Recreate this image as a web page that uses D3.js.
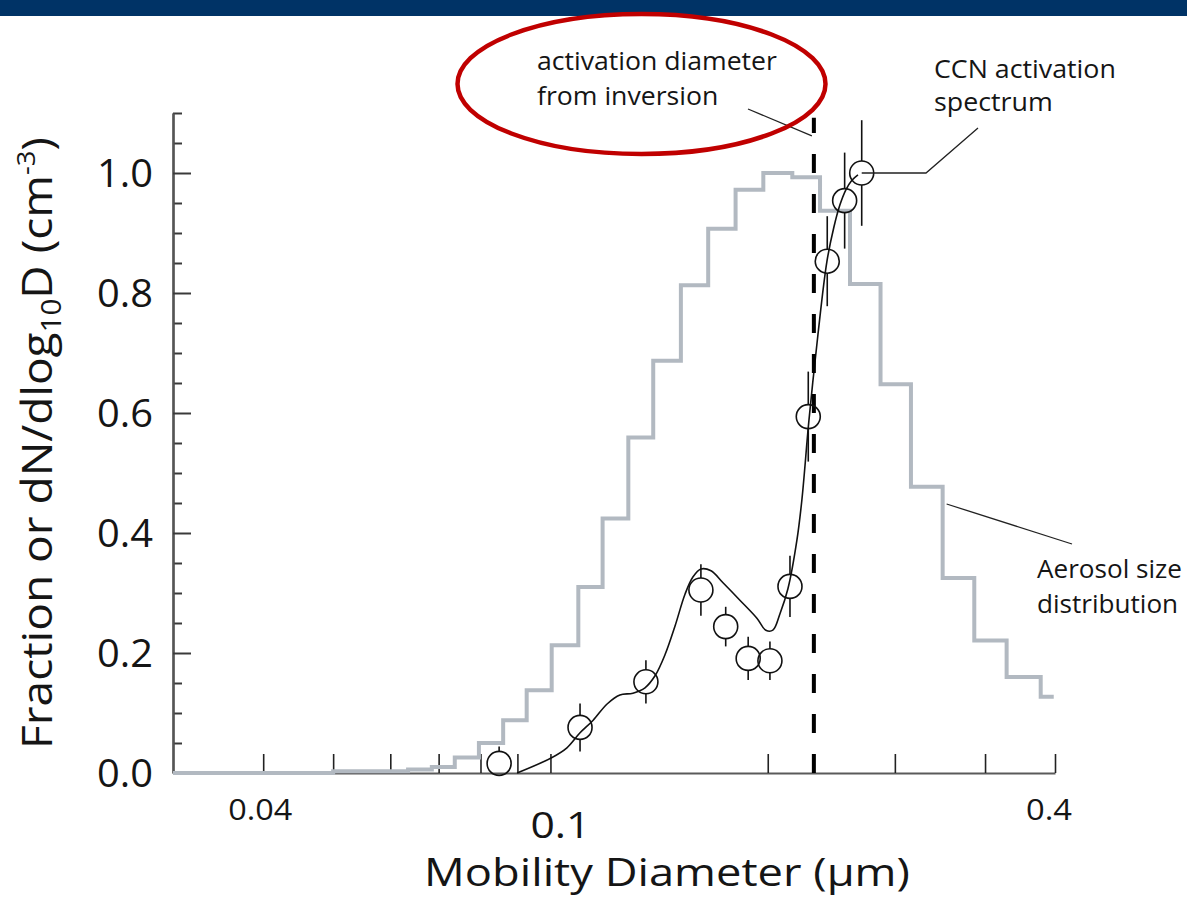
<!DOCTYPE html>
<html>
<head>
<meta charset="utf-8">
<script src="https://cdn.jsdelivr.net/npm/d3@7"></script>
<style>
  html, body { margin: 0; padding: 0; background: #ffffff; }
  svg { display: block; }
  text { font-family: "Open Sans", "Noto Sans", sans-serif; fill: #151515; }
</style>
</head>
<body>
<svg id="chart" width="1187" height="908"></svg>
<script>
// ---- Aerosol size distribution (normalised dN/dlog10D); each bin starts at the listed diameter (µm)
const sizeBinEdges = [0.03, 0.050, 0.0635, 0.0685, 0.0737, 0.0796, 0.0860, 0.0927, 0.1004, 0.1093,
  0.1181, 0.1282, 0.1388, 0.1516, 0.1654, 0.1805, 0.1972, 0.2163, 0.2363, 0.2600,
  0.2866, 0.3158, 0.3494, 0.3865, 0.4285, 0.4777];
const sizeBinValues = [0, 0.003, 0.006, 0.010, 0.026, 0.050, 0.088, 0.138, 0.213, 0.310,
  0.424, 0.559, 0.687, 0.813, 0.907, 0.972, 1.000, 0.993, 0.937, 0.815,
  0.648, 0.477, 0.325, 0.221, 0.160, 0.127];
const sizeBinEnd = 0.498;

// ---- CCN activation spectrum: measured activated fraction with uncertainty
const ccnDiameter = [0.0849, 0.1099, 0.1356, 0.1616, 0.1749, 0.1879, 0.2014, 0.2147, 0.2276, 0.2418, 0.2556, 0.2699];
const ccnFraction = [0.016, 0.076, 0.152, 0.305, 0.244, 0.191, 0.187, 0.311, 0.594, 0.853, 0.954, 1.000];
const ccnError    = [0.028, 0.040, 0.036, 0.043, 0.033, 0.036, 0.032, 0.051, 0.075, 0.075, 0.080, 0.088];

// ---- Smooth fit through the activation spectrum
const fitDiameter = [0.0899, 0.1002, 0.1054, 0.1099, 0.1146, 0.1198, 0.1248, 0.1301, 0.1352, 0.1396,
  0.1441, 0.1488, 0.1536, 0.1576, 0.1616, 0.1669, 0.1734, 0.1830, 0.1932, 0.1988,
  0.2033, 0.2079, 0.2133, 0.2195, 0.2230, 0.2281, 0.2347, 0.2415, 0.2470, 0.2518,
  0.2566, 0.2616, 0.2667];
const fitFraction = [0, 0.025, 0.042, 0.067, 0.088, 0.115, 0.130, 0.133, 0.142, 0.162,
  0.197, 0.245, 0.298, 0.327, 0.340, 0.337, 0.317, 0.288, 0.258, 0.238,
  0.238, 0.265, 0.307, 0.388, 0.455, 0.588, 0.730, 0.852, 0.910, 0.947,
  0.972, 0.988, 0.997];

// ---- Activation diameter obtained from the inversion
const activationDiameter = 0.2317;
const activationLineTop = 1.092;

// ---- Axes
const xDomain = [0.03, 0.5];
const yDomain = [0, 1.1];
const xTickValues = [0.04, 0.05, 0.06, 0.07, 0.08, 0.09, 0.1, 0.2, 0.3, 0.4, 0.5];
const xTickLabelValues = [0.04, 0.1, 0.4];
const xTickLabels = ["0.04", "0.1", "0.4"];
const yMajorTicks = [0, 0.2, 0.4, 0.6, 0.8, 1.0];
const yMinorTicks = [0.05, 0.1, 0.15, 0.25, 0.3, 0.35, 0.45, 0.5, 0.55, 0.65, 0.7, 0.75, 0.85, 0.9, 0.95, 1.05, 1.1];
const yTickLabels = ["0.0", "0.2", "0.4", "0.6", "0.8", "1.0"];

const W = 1187, H = 908;
const svg = d3.select("#chart");

const x = d3.scaleLog().domain(xDomain).range([173, 1055]);
const y = d3.scaleLinear().domain(yDomain).range([773, 113]);

// header band
svg.append("rect").attr("x", 0).attr("y", 0).attr("width", W).attr("height", 16).attr("fill", "#003366");

// text helper: draws lines of text and stretches them horizontally to a given width
function stretchedText(parent, x0, y0, size, anchor, lines, gap, targetWidth, rotate) {
  const g = parent.append("g");
  const t = g.append("text").attr("font-size", size).attr("text-anchor", anchor);
  lines.forEach((ln, i) => t.append("tspan").attr("x", 0).attr("y", i * gap).text(ln));
  const len = t.select("tspan").node().getComputedTextLength();
  const s = targetWidth ? targetWidth / len : 1;
  g.attr("transform", `translate(${x0},${y0}) rotate(${rotate || 0}) scale(${s},1)`);
  return g;
}

// ---- y axis (ticks point into the plot)
const yAxisG = svg.append("g").attr("transform", `translate(${x.range()[0]},0)`);
yAxisG.call(d3.axisRight(y).tickValues(yMinorTicks).tickSize(9).tickSizeOuter(0).tickFormat(""));
yAxisG.call(g => g.selectAll(".tick line").attr("stroke", "#3a3a3a").attr("stroke-width", 2));
const yMajorG = svg.append("g").attr("transform", `translate(${x.range()[0]},0)`);
yMajorG.call(d3.axisRight(y).tickValues(yMajorTicks).tickSize(18).tickSizeOuter(0).tickFormat(""));
yMajorG.call(g => g.selectAll(".tick line").attr("stroke", "#3a3a3a").attr("stroke-width", 2));
svg.selectAll(".domain").attr("stroke", "#555").attr("stroke-width", 2.2);

// y tick labels
const yLabG = svg.append("g");
yMajorTicks.forEach((v, i) => {
  stretchedText(yLabG, 153, y(v) + 14, 39, "end", [yTickLabels[i]], 0, 56, 0);
});

// ---- x axis (ticks point up into the plot)
const xAxisG = svg.append("g").attr("transform", `translate(0,${y(0)})`);
xAxisG.call(d3.axisTop(x).tickValues(xTickValues).tickSize(19).tickSizeOuter(0).tickFormat(""));
xAxisG.call(g => {
  g.select(".domain").attr("stroke", "#5a5a5a").attr("stroke-width", 2.2);
  g.selectAll(".tick line").attr("stroke", "#222").attr("stroke-width", 1.6);
});

// x tick labels (placement and size follow the printed figure)
const xLabelNudge = [[-3, 0], [10, 18], [64, 0]];
const xLabelSize = [30, 37, 30];
const xLabelWidth = [64, 60, 46];
xTickLabelValues.forEach((v, i) => {
  stretchedText(svg, x(v) + xLabelNudge[i][0], 820 + xLabelNudge[i][1], xLabelSize[i], "middle",
    [xTickLabels[i]], 0, xLabelWidth[i], 0);
});

// axis titles
stretchedText(svg, 667, 886, 39, "middle", ["Mobility Diameter (\u03bcm)"], 0, 486, 0);

const yTitle = svg.append("g");
const yt = yTitle.append("text").attr("font-size", 42).attr("text-anchor", "middle");
yt.append("tspan").text("Fraction or dN/dlog");
yt.append("tspan").attr("font-size", 27).attr("dy", 9).text("10");
yt.append("tspan").attr("dy", -9).text("D (cm");
yt.append("tspan").attr("font-size", 25).attr("dy", -17).text("-3");
yt.append("tspan").attr("dy", 17).text(")");
{
  const len = yt.node().getComputedTextLength();
  yTitle.attr("transform", `translate(52,443) rotate(-90) scale(${612 / len},1)`);
}

// ---- aerosol size distribution (step curve)
const stepPts = sizeBinEdges.map((d, i) => [d, sizeBinValues[i]]);
stepPts.push([sizeBinEnd, sizeBinValues[sizeBinValues.length - 1]]);
svg.append("path")
  .datum(stepPts)
  .attr("fill", "none")
  .attr("stroke", "#b2b9c1")
  .attr("stroke-width", 4)
  .attr("stroke-linejoin", "miter")
  .attr("d", d3.line().x(d => x(d[0])).y(d => y(d[1])).curve(d3.curveStepAfter));

// ---- fitted activation curve
const fitPts = fitDiameter.map((d, i) => [d, fitFraction[i]]);
svg.append("path")
  .datum(fitPts)
  .attr("fill", "none")
  .attr("stroke", "#111")
  .attr("stroke-width", 1.6)
  .attr("d", d3.line().x(d => x(d[0])).y(d => y(d[1])).curve(d3.curveCatmullRom.alpha(0.5)));

// ---- activation diameter marker
svg.append("line")
  .attr("x1", x(activationDiameter)).attr("x2", x(activationDiameter))
  .attr("y1", y(0)).attr("y2", y(activationLineTop))
  .attr("stroke", "#000").attr("stroke-width", 4)
  .attr("stroke-dasharray", "19,21");

// ---- measured CCN points with error bars
const R = 12;
const pts = svg.append("g");
ccnDiameter.forEach((d, i) => {
  const cx = x(d), cy = y(ccnFraction[i]);
  const top = y(ccnFraction[i] + ccnError[i]);
  const bot = Math.min(y(ccnFraction[i] - ccnError[i]), y(0));
  if (top < cy - R) pts.append("line").attr("x1", cx).attr("x2", cx).attr("y1", cy - R).attr("y2", top)
    .attr("stroke", "#111").attr("stroke-width", 1.6);
  if (bot > cy + R) pts.append("line").attr("x1", cx).attr("x2", cx).attr("y1", cy + R).attr("y2", bot)
    .attr("stroke", "#111").attr("stroke-width", 1.6);
  pts.append("circle").attr("cx", cx).attr("cy", cy).attr("r", R)
    .attr("fill", "none").attr("stroke", "#111").attr("stroke-width", 1.6);
});

// ---- annotations
const ann = svg.append("g");
const lastI = ccnDiameter.length - 1;
// leader: activation diameter
ann.append("line").attr("x1", 748).attr("y1", 109)
  .attr("x2", x(activationDiameter) - 2).attr("y2", y(1.062))
  .attr("stroke", "#222").attr("stroke-width", 1.3);
// leader: CCN activation spectrum
ann.append("polyline")
  .attr("points", `${x(ccnDiameter[lastI])},${y(ccnFraction[lastI])} 926,${y(ccnFraction[lastI])} 978,128`)
  .attr("fill", "none").attr("stroke", "#222").attr("stroke-width", 1.3);
// leader: aerosol size distribution
ann.append("line").attr("x1", x(sizeBinEdges[22]) + 4).attr("y1", 504)
  .attr("x2", 1072).attr("y2", 544)
  .attr("stroke", "#222").attr("stroke-width", 1.3);

stretchedText(ann, 537, 70, 25, "start", ["activation diameter", "from inversion"], 35, 240, 0);
stretchedText(ann, 934, 78, 25, "start", ["CCN activation", "spectrum"], 33, 182, 0);
stretchedText(ann, 1037, 578, 25, "start", ["Aerosol size", "distribution"], 35, 145, 0);

// highlight ring around the activation label
svg.append("ellipse")
  .attr("cx", 641.5).attr("cy", 84).attr("rx", 184).attr("ry", 70)
  .attr("fill", "none").attr("stroke", "#c00000").attr("stroke-width", 4.5);
</script>
</body>
</html>
